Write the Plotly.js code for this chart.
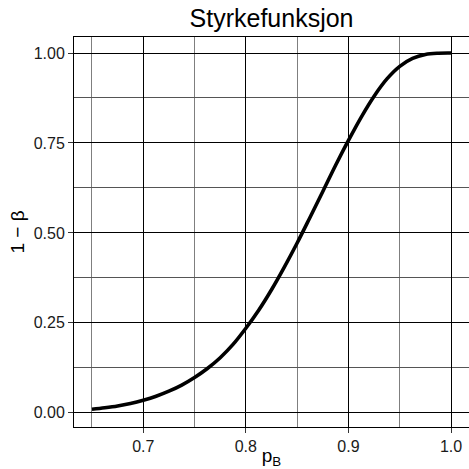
<!DOCTYPE html>
<html>
<head>
<meta charset="utf-8">
<script src="https://cdn.plot.ly/plotly-3.0.1.min.js"></script>
<style>html,body{margin:0;padding:0;background:#fff;}#chart{width:469px;height:469px;}</style>
</head>
<body>
<div id="chart"></div>
<script>
const pB = [0.65, 0.6625, 0.675, 0.6875, 0.70, 0.7125, 0.725, 0.7375, 0.75, 0.7625, 0.775, 0.7875, 0.80, 0.8125, 0.825, 0.8375, 0.85, 0.8625, 0.875, 0.8875, 0.90, 0.9125, 0.925, 0.9375, 0.95, 0.9625, 0.975, 0.9875, 1.0];
const power = [0.010, 0.014, 0.019, 0.026, 0.035, 0.046, 0.060, 0.077, 0.098, 0.123, 0.153, 0.190, 0.235, 0.285, 0.342, 0.405, 0.472, 0.543, 0.615, 0.688, 0.757, 0.822, 0.880, 0.928, 0.963, 0.985, 0.996, 0.9995, 1.0];
const xTicks = [0.7, 0.8, 0.9, 1.0];
const xTickText = ["0.7", "0.8", "0.9", "1.0"];
const yTicks = [0, 0.25, 0.5, 0.75, 1.0];
const yTickText = ["0.00", "0.25", "0.50", "0.75", "1.00"];

const font = "Liberation Sans, Arial, sans-serif";
Plotly.newPlot("chart", [{
  x: pB, y: power, type: "scatter", mode: "lines",
  line: {color: "#000", width: 3.6, shape: "spline", smoothing: 1},
  hoverinfo: "skip"
}], {
  width: 469, height: 469,
  margin: {l: 74, r: 0, t: 37, b: 42},
  paper_bgcolor: "#fff", plot_bgcolor: "#fff",
  showlegend: false,
  title: {text: "Styrkefunksjon", font: {family: font, size: 25, color: "#000"}, x: 0.579, xanchor: "center", y: 0.962, yanchor: "middle"},
  xaxis: {
    range: [0.6325, 1.0175], tickvals: xTicks, ticktext: xTickText,
    ticks: "outside", ticklen: 5, tickcolor: "#333", tickwidth: 1,
    tickfont: {family: font, size: 16, color: "#1a1a1a"},
    showgrid: true, gridcolor: "#000", gridwidth: 1,
    minor: {tickvals: [0.65, 0.75, 0.85, 0.95], showgrid: true, gridcolor: "#7f7f7f", gridwidth: 1, ticks: ""},
    showline: true, linecolor: "#000", linewidth: 1, mirror: true,
    zeroline: false,
    title: {text: "p<sub>B</sub>", font: {family: font, size: 19, color: "#000"}, standoff: 2}
  },
  yaxis: {
    range: [-0.0395, 1.0445], tickvals: yTicks, ticktext: yTickText,
    ticks: "outside", ticklen: 5, tickcolor: "#333", tickwidth: 1,
    tickfont: {family: font, size: 16, color: "#1a1a1a"},
    showgrid: true, gridcolor: "#000", gridwidth: 1,
    minor: {tickvals: [0.125, 0.375, 0.625, 0.875], showgrid: true, gridcolor: "#555", gridwidth: 1, ticks: ""},
    showline: true, linecolor: "#000", linewidth: 1, mirror: true,
    zeroline: false,
    title: {text: "1 − β", font: {family: font, size: 19, color: "#000"}, standoff: 4}
  }
}, {staticPlot: true, displayModeBar: false});
</script>
</body>
</html>
